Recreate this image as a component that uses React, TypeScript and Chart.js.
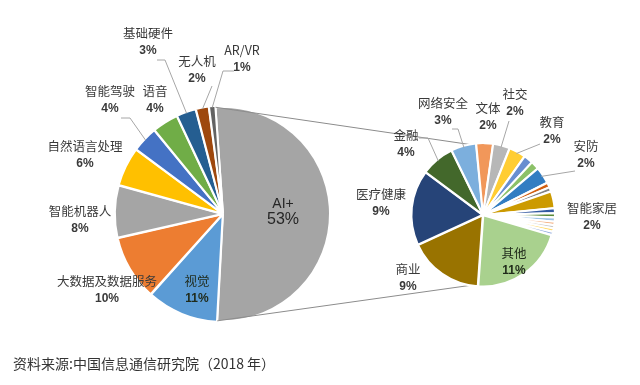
import React, { useEffect, useRef } from "react";
import { Chart, registerables } from "chart.js";

Chart.register(...registerables);

// ---- Data ----
const mainLabels = ["AI+", "视觉", "大数据及数据服务", "智能机器人", "自然语言处理", "智能驾驶", "语音", "基础硬件", "无人机", "AR/VR"];
const mainValues = [53, 11, 10, 8, 6, 4, 4, 3, 2, 1];
const mainColors = ["#A5A5A5", "#5B9BD5", "#ED7D31", "#A5A5A5", "#FFC000", "#4472C4", "#70AD47", "#255E91", "#9E480E", "#636363"];

const subLabels = ["商业", "医疗健康", "金融", "网络安全", "文体", "社交", "教育", "", "", "安防", "", "", "智能家居", "", "", "", "", "", "", "", "其他"];
const subValues = [9, 9, 4, 3, 2, 2, 2, 1.1, 1, 2, 0.6, 0.5, 2, 0.6, 0.5, 0.5, 0.4, 0.4, 0.4, 0.4, 11.4];
const subColors = ["#997300", "#264478", "#43682B", "#7CAFDD", "#F1975A", "#B7B7B7", "#FFCD33", "#698ED0", "#8CC168", "#327DC2", "#D26012", "#848484", "#CC9A00", "#335AA1", "#5A8A39", "#9DC3E6", "#F4B183", "#C9C9C9", "#FFD966", "#8FAADC", "#A9D18E"];

const sourceText = "资料来源:中国信息通信研究院（2018 年）";

// ---- Label layout (text positions, leader elbows) ----
type Callout = { index: number; x: number; y: number; leader?: number[][]; big?: boolean; dark?: boolean };

const mainCallouts: Callout[] = [
  { index: 0, x: 283, y: 204, big: true },
  { index: 1, x: 197, y: 281, dark: true },
  { index: 2, x: 107, y: 281 },
  { index: 3, x: 80, y: 211 },
  { index: 4, x: 85, y: 146 },
  { index: 5, x: 110, y: 91, leader: [[121, 118], [130, 118]] },
  { index: 6, x: 155, y: 91 },
  { index: 7, x: 148, y: 33, leader: [[157, 60], [165, 60]] },
  { index: 8, x: 197, y: 61, leader: [[212, 86]] },
  { index: 9, x: 242, y: 50, leader: [[234, 71], [223, 71]] },
];

const subCallouts: Callout[] = [
  { index: 0, x: 408, y: 269 },
  { index: 1, x: 381, y: 194 },
  { index: 2, x: 406, y: 135, leader: [[419, 138], [428, 138]] },
  { index: 3, x: 443, y: 103, leader: [[452, 129], [458, 129]] },
  { index: 4, x: 488, y: 108 },
  { index: 5, x: 515, y: 94, leader: [[509, 121]] },
  { index: 6, x: 552, y: 122, leader: [[540, 144]] },
  { index: 9, x: 586, y: 146, leader: [[575, 171]] },
  { index: 12, x: 592, y: 208 },
  { index: 20, x: 514, y: 253, dark: true },
];

const CJK = '"Noto Sans CJK SC", "Noto Sans", sans-serif';
const LATIN = '"Liberation Sans", Arial, sans-serif';

function makeCallouts(items: Callout[]) {
  return {
    id: "callouts",
    afterDatasetsDraw(chart: any) {
      const ctx = chart.ctx as CanvasRenderingContext2D;
      const meta = chart.getDatasetMeta(0);
      const values = chart.data.datasets[0].data as number[];
      const labels = chart.data.labels as string[];
      ctx.save();
      items.forEach((it) => {
        const arc = meta.data[it.index];
        const p = arc.getProps(["x", "y", "startAngle", "endAngle", "outerRadius"], true);
        const mid = (p.startAngle + p.endAngle) / 2;
        if (it.leader) {
          const offOpt = chart.data.datasets[0].offset;
          const off = (Array.isArray(offOpt) ? offOpt[it.index] : offOpt || 0) as number;
          const ex = p.x + Math.cos(mid) * (p.outerRadius + off - 3);
          const ey = p.y + Math.sin(mid) * (p.outerRadius + off - 3);
          ctx.beginPath();
          ctx.strokeStyle = "#A6A6A6";
          ctx.lineWidth = 1;
          it.leader.forEach((pt, k) => (k === 0 ? ctx.moveTo(pt[0], pt[1]) : ctx.lineTo(pt[0], pt[1])));
          ctx.lineTo(ex, ey);
          ctx.stroke();
        }
        ctx.textAlign = "center";
        ctx.textBaseline = "middle";
        const pct = Math.round(values[it.index]) + "%";
        if (it.big) {
          ctx.fillStyle = "#262626";
          ctx.font = `14px ${LATIN}`;
          ctx.fillText(labels[it.index], it.x, it.y);
          ctx.font = `16px ${LATIN}`;
          ctx.fillText(pct, it.x, it.y + 16);
        } else {
          ctx.fillStyle = it.dark ? "#1f2a1a" : "#3a3a3a";
          ctx.font = `12.5px ${CJK}`;
          ctx.fillText(labels[it.index], it.x, it.y);
          ctx.font = `bold 12px ${LATIN}`;
          ctx.fillText(pct, it.x, it.y + 18);
        }
      });
      ctx.restore();
    },
  };
}

function makeConnectors(getMain: () => any) {
  return {
    id: "connectors",
    beforeDatasetsDraw(chart: any) {
      const main = getMain();
      if (!main) return;
      const a = main.getDatasetMeta(0).data[0].getProps(["x", "y", "startAngle", "endAngle", "outerRadius"], true);
      const s = chart.getDatasetMeta(0).data[0].getProps(["x", "y", "outerRadius"], true);
      const ctx = chart.ctx as CanvasRenderingContext2D;
      ctx.save();
      ctx.strokeStyle = "#8C8C8C";
      ctx.lineWidth = 1;
      ctx.beginPath();
      ctx.moveTo(a.x + Math.cos(a.startAngle) * a.outerRadius, a.y + Math.sin(a.startAngle) * a.outerRadius);
      ctx.lineTo(s.x - 3, s.y - s.outerRadius + 2);
      ctx.moveTo(a.x + Math.cos(a.endAngle) * a.outerRadius, a.y + Math.sin(a.endAngle) * a.outerRadius);
      ctx.lineTo(s.x - 3, s.y + s.outerRadius - 2);
      ctx.stroke();
      ctx.restore();
    },
  };
}

export default function App() {
  const mainRef = useRef<HTMLCanvasElement>(null);
  const subRef = useRef<HTMLCanvasElement>(null);

  useEffect(() => {
    if (!mainRef.current || !subRef.current) return;
    const main = new Chart(mainRef.current, {
      type: "pie",
      data: {
        labels: mainLabels,
        datasets: [
          {
            data: mainValues,
            backgroundColor: mainColors,
            borderColor: "#ffffff",
            borderWidth: 2,
            offset: mainValues.map((_, i) => (i === 0 ? 0 : 3)),
            radius: 107,
          } as any,
        ],
      },
      options: {
        responsive: false,
        animation: false,
        events: [],
        rotation: -4,
        layout: { padding: { left: 103, right: 297, top: 94, bottom: 51 } },
        plugins: { legend: { display: false }, tooltip: { enabled: false } },
      } as any,
      plugins: [makeCallouts(mainCallouts)],
    });

    const sub = new Chart(subRef.current, {
      type: "pie",
      data: {
        labels: subLabels,
        datasets: [
          {
            data: subValues,
            backgroundColor: subColors,
            borderColor: "#ffffff",
            borderWidth: 2,
            offset: 2,
            radius: 71,
          } as any,
        ],
      },
      options: {
        responsive: false,
        animation: false,
        events: [],
        rotation: 184,
        layout: { padding: { left: 403, right: 77, top: 135, bottom: 90 } },
        plugins: { legend: { display: false }, tooltip: { enabled: false } },
      } as any,
      plugins: [makeConnectors(() => main), makeCallouts(subCallouts)],
    });

    return () => {
      sub.destroy();
      main.destroy();
    };
  }, []);

  const canvasStyle: React.CSSProperties = { position: "absolute", left: 0, top: 0, width: 640, height: 385 };

  return (
    <div style={{ position: "fixed", left: 0, top: 0, width: 640, height: 385, background: "#ffffff", overflow: "hidden" }}>
      <canvas ref={mainRef} width={640} height={385} style={canvasStyle} />
      <canvas ref={subRef} width={640} height={385} style={canvasStyle} />
      <div
        style={{
          position: "absolute",
          left: 13,
          top: 354,
          fontFamily: CJK,
          fontSize: 14,
          lineHeight: "18px",
          color: "#333333",
          whiteSpace: "nowrap",
        }}
      >
        {sourceText}
      </div>
    </div>
  );
}
